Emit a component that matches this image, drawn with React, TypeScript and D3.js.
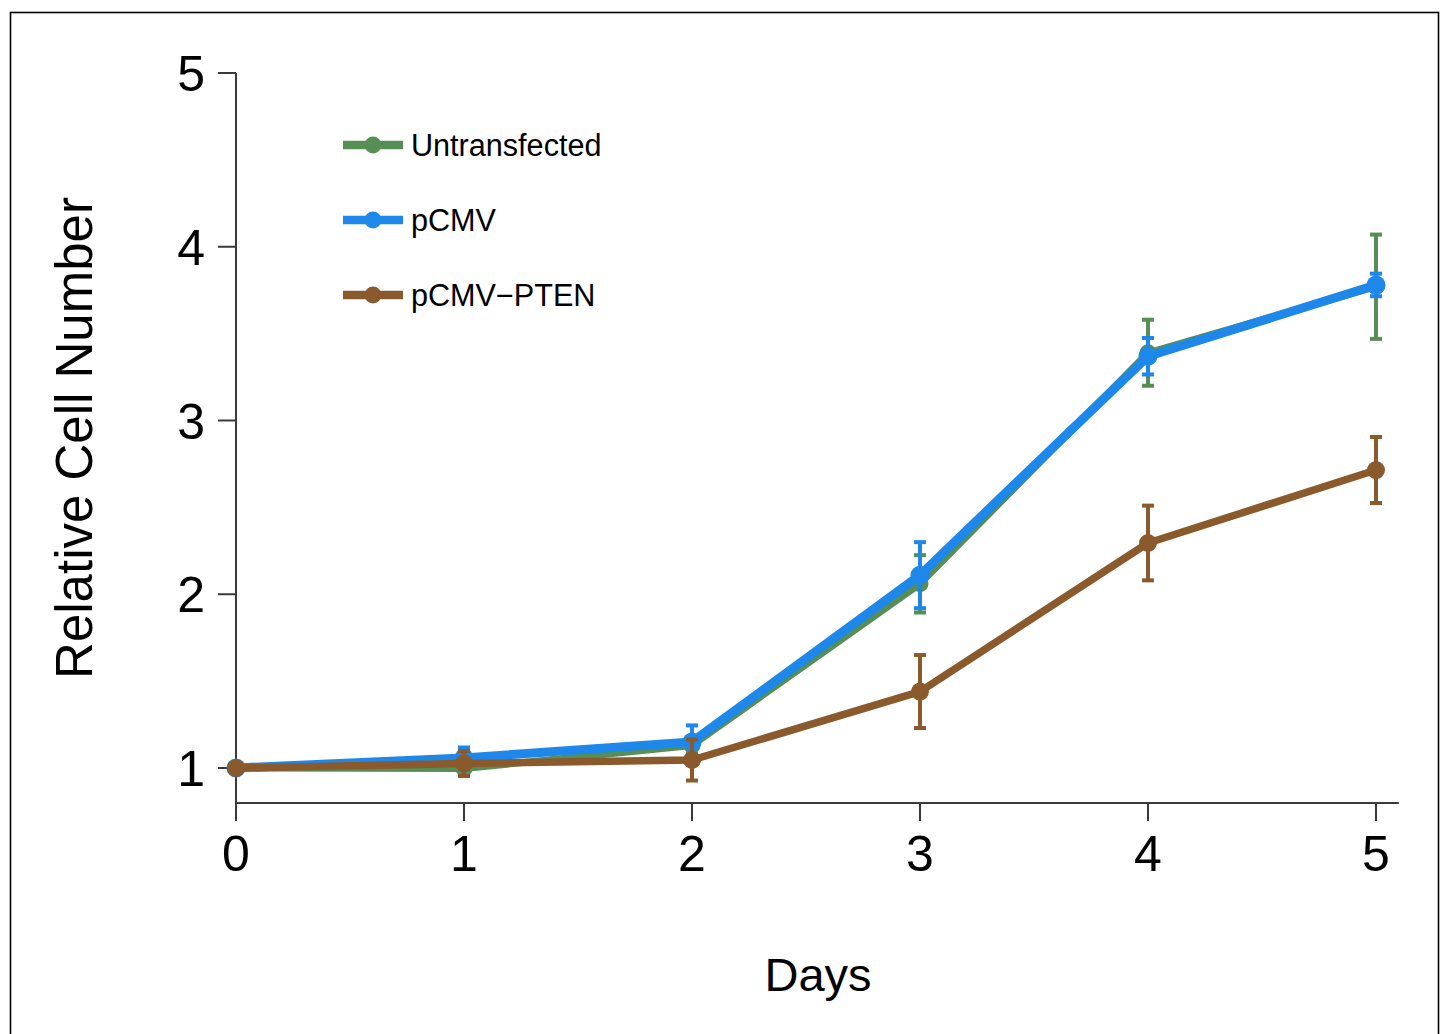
import React from "react";
import * as d3 from "d3";

const days = [0, 1, 2, 3, 4, 5];
const untransfected = [1.0, 0.997, 1.13, 2.06, 3.39, 3.77];
const untransfectedErr = [0, 0.03, 0.05, 0.165, 0.19, 0.3];
const pcmv = [1.0, 1.058, 1.15, 2.11, 3.37, 3.78];
const pcmvErr = [0, 0.06, 0.095, 0.19, 0.105, 0.065];
const pten = [1.0, 1.026, 1.046, 1.44, 2.295, 2.715];
const ptenErr = [0, 0.072, 0.118, 0.21, 0.215, 0.19];
const xTicks = [0, 1, 2, 3, 4, 5];
const yTicks = [1, 2, 3, 4, 5];
const seriesNames = ["Untransfected", "pCMV", "pCMV\u2212PTEN"];

const FONT = "'Liberation Sans', Arial, Helvetica, sans-serif";

export default function App() {
  const x = d3.scaleLinear().domain([0, 5]).range([236, 1376]);
  const y = d3.scaleLinear().domain([1, 5]).range([768, 73]);
  const xAxisEnd = x(5.1);
  const yAxisBottom = 803;

  const series = [
    { name: seriesNames[0], vals: untransfected, err: untransfectedErr, color: "#568E56", width: 7, r: 8.5 },
    { name: seriesNames[1], vals: pcmv, err: pcmvErr, color: "#1E88EA", width: 9, r: 9.5 },
    { name: seriesNames[2], vals: pten, err: ptenErr, color: "#8A5A2C", width: 7.5, r: 9 },
  ];

  const line = d3
    .line<number>()
    .x((_, i) => x(days[i]))
    .y((d) => y(d));

  const axisColor = "#3a3a3a";

  return (
    <svg
      width={1447}
      height={1034}
      style={{ position: "fixed", left: 0, top: 0, background: "#fff" }}
    >
      <rect x={0} y={0} width={1447} height={1034} fill="#fff" />
      <rect x={10.5} y={12.5} width={1428} height={1100} fill="none" stroke="#000" strokeWidth={1.6} />

      {/* axes */}
      <line x1={236} x2={236} y1={y(5)} y2={yAxisBottom} stroke={axisColor} strokeWidth={2} />
      <line x1={236} x2={xAxisEnd} y1={yAxisBottom} y2={yAxisBottom} stroke={axisColor} strokeWidth={2} />
      {yTicks.map((t) => (
        <g key={"y" + t}>
          <line x1={218} x2={236} y1={y(t)} y2={y(t)} stroke={axisColor} strokeWidth={2} />
          <text
            x={205}
            y={y(t)}
            dy="0.36em"
            textAnchor="end"
            fontFamily={FONT}
            fontSize={50}
            fill="#000"
          >
            {t}
          </text>
        </g>
      ))}
      {xTicks.map((t) => (
        <g key={"x" + t}>
          <line x1={x(t)} x2={x(t)} y1={yAxisBottom} y2={821} stroke={axisColor} strokeWidth={2} />
          <text x={x(t)} y={871} textAnchor="middle" fontFamily={FONT} fontSize={50} fill="#000">
            {t}
          </text>
        </g>
      ))}

      <text
        transform={`translate(92, 438) rotate(-90)`}
        textAnchor="middle"
        fontFamily={FONT}
        fontSize={51}
        fill="#000"
      >
        Relative Cell Number
      </text>
      <text x={818} y={991} textAnchor="middle" fontFamily={FONT} fontSize={47} fill="#000">
        Days
      </text>

      {/* series */}
      {series.map((s) => (
        <g key={s.name}>
          {s.vals.map((v, i) =>
            s.err[i] > 0 ? (
              <g key={i} stroke={s.color} strokeWidth={4}>
                <line x1={x(days[i])} x2={x(days[i])} y1={y(v + s.err[i])} y2={y(v - s.err[i])} />
                <line x1={x(days[i]) - 6} x2={x(days[i]) + 6} y1={y(v + s.err[i])} y2={y(v + s.err[i])} />
                <line x1={x(days[i]) - 6} x2={x(days[i]) + 6} y1={y(v - s.err[i])} y2={y(v - s.err[i])} />
              </g>
            ) : null
          )}
          <path d={line(s.vals) || ""} fill="none" stroke={s.color} strokeWidth={s.width} strokeLinejoin="round" />
          {s.vals.map((v, i) => (
            <circle key={"c" + i} cx={x(days[i])} cy={y(v)} r={s.r} fill={s.color} />
          ))}
        </g>
      ))}

      {/* legend */}
      {series.map((s, i) => {
        const ly = 145 + i * 75;
        return (
          <g key={"leg" + i}>
            <line x1={343} x2={403} y1={ly} y2={ly} stroke={s.color} strokeWidth={8.5} />
            <circle cx={373} cy={ly} r={8.5} fill={s.color} />
            <text x={411} y={ly} dy="0.36em" fontFamily={FONT} fontSize={30.6} fill="#000">
              {s.name}
            </text>
          </g>
        );
      })}
    </svg>
  );
}
